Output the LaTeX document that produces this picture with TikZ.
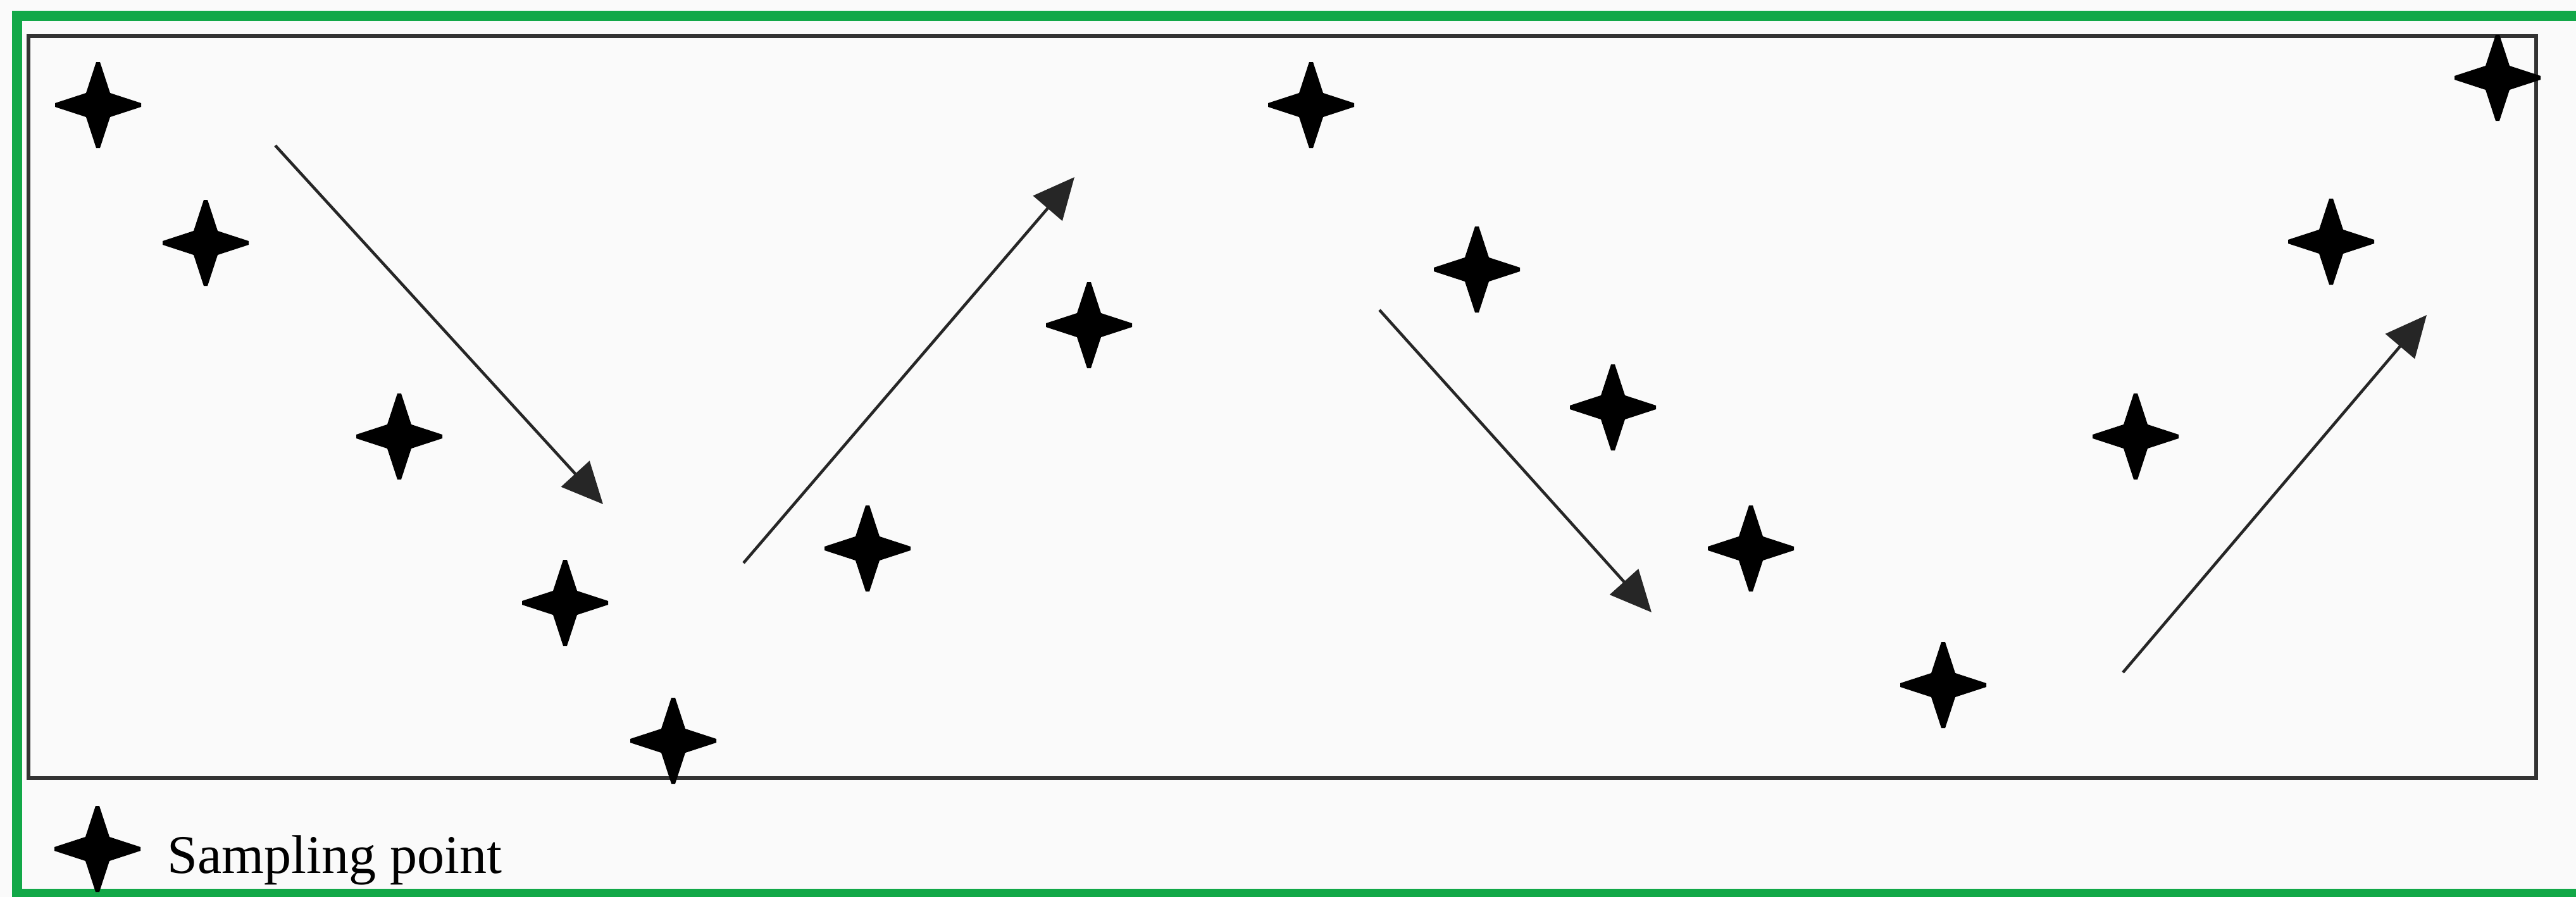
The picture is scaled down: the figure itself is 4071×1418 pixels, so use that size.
\documentclass[tikz,border=0pt]{standalone}
\usepackage{fontspec}
\setmainfont{Liberation Serif}
\definecolor{frgreen}{RGB}{18,168,72}
\definecolor{bggray}{RGB}{250,250,250}
\usetikzlibrary{arrows.meta}
\tikzset{
  sampstar/.pic={\fill[black] (-3,-68) -- (3,-68) -- (19,-19) -- (68,-3) -- (68,3) -- (19,19) -- (3,68) -- (-3,68) -- (-19,19) -- (-68,3) -- (-68,-3) -- (-19,-19) -- cycle;},
  trend/.style={-{Triangle[length=6.5mm,width=6mm]}, line width=1.3pt, black!85}
}

\begin{document}
\begin{tikzpicture}[x=0.01cm, y=-0.01cm]
  \useasboundingbox (0,0) rectangle (4071,1418);
  \fill[bggray] (0,0) rectangle (4071,1418);
  \begin{scope}
    \clip (0,0) rectangle (4071,1418);
    \draw[frgreen, line width=4.3pt] (27,25) rectangle (4120,1413);
  \end{scope}
  \draw[black!80, line width=1.7pt] (45,57) rectangle (4008,1230);

  \pic (s1) at (155,166) {sampstar};
  \pic (s2) at (325,384) {sampstar};
  \pic (s3) at (631,690) {sampstar};
  \pic (s4) at (893,953) {sampstar};
  \pic (s5) at (1064,1171) {sampstar};
  \pic (s6) at (1371,867) {sampstar};
  \pic (s7) at (1721,514) {sampstar};
  \pic (s8) at (2072,166) {sampstar};
  \pic (s9) at (2334,426) {sampstar};
  \pic (s10) at (2549,644) {sampstar};
  \pic (s11) at (2767,867) {sampstar};
  \pic (s12) at (3071,1083) {sampstar};
  \pic (s13) at (3375,690) {sampstar};
  \pic (s14) at (3684,382) {sampstar};
  \pic (s15) at (3947,123) {sampstar};

  \coordinate (a1s) at (435,230);
  \coordinate (a1e) at (953,797);
  \coordinate (a2s) at (1175,890);
  \coordinate (a2e) at (1698,280);
  \coordinate (a3s) at (2180,490);
  \coordinate (a3e) at (2610,968);
  \coordinate (a4s) at (3355,1063);
  \coordinate (a4e) at (3835,498);
  \draw[trend] (a1s) -- (a1e);
  \draw[trend] (a2s) -- (a2e);
  \draw[trend] (a3s) -- (a3e);
  \draw[trend] (a4s) -- (a4e);

  \pic (lgstar) at (154,1342) {sampstar};
  \node[anchor=base west, inner sep=0pt, font=\fontsize{24.5}{29}\selectfont] (lgtext) at (264,1380) {Sampling point};
\end{tikzpicture}
\end{document}
